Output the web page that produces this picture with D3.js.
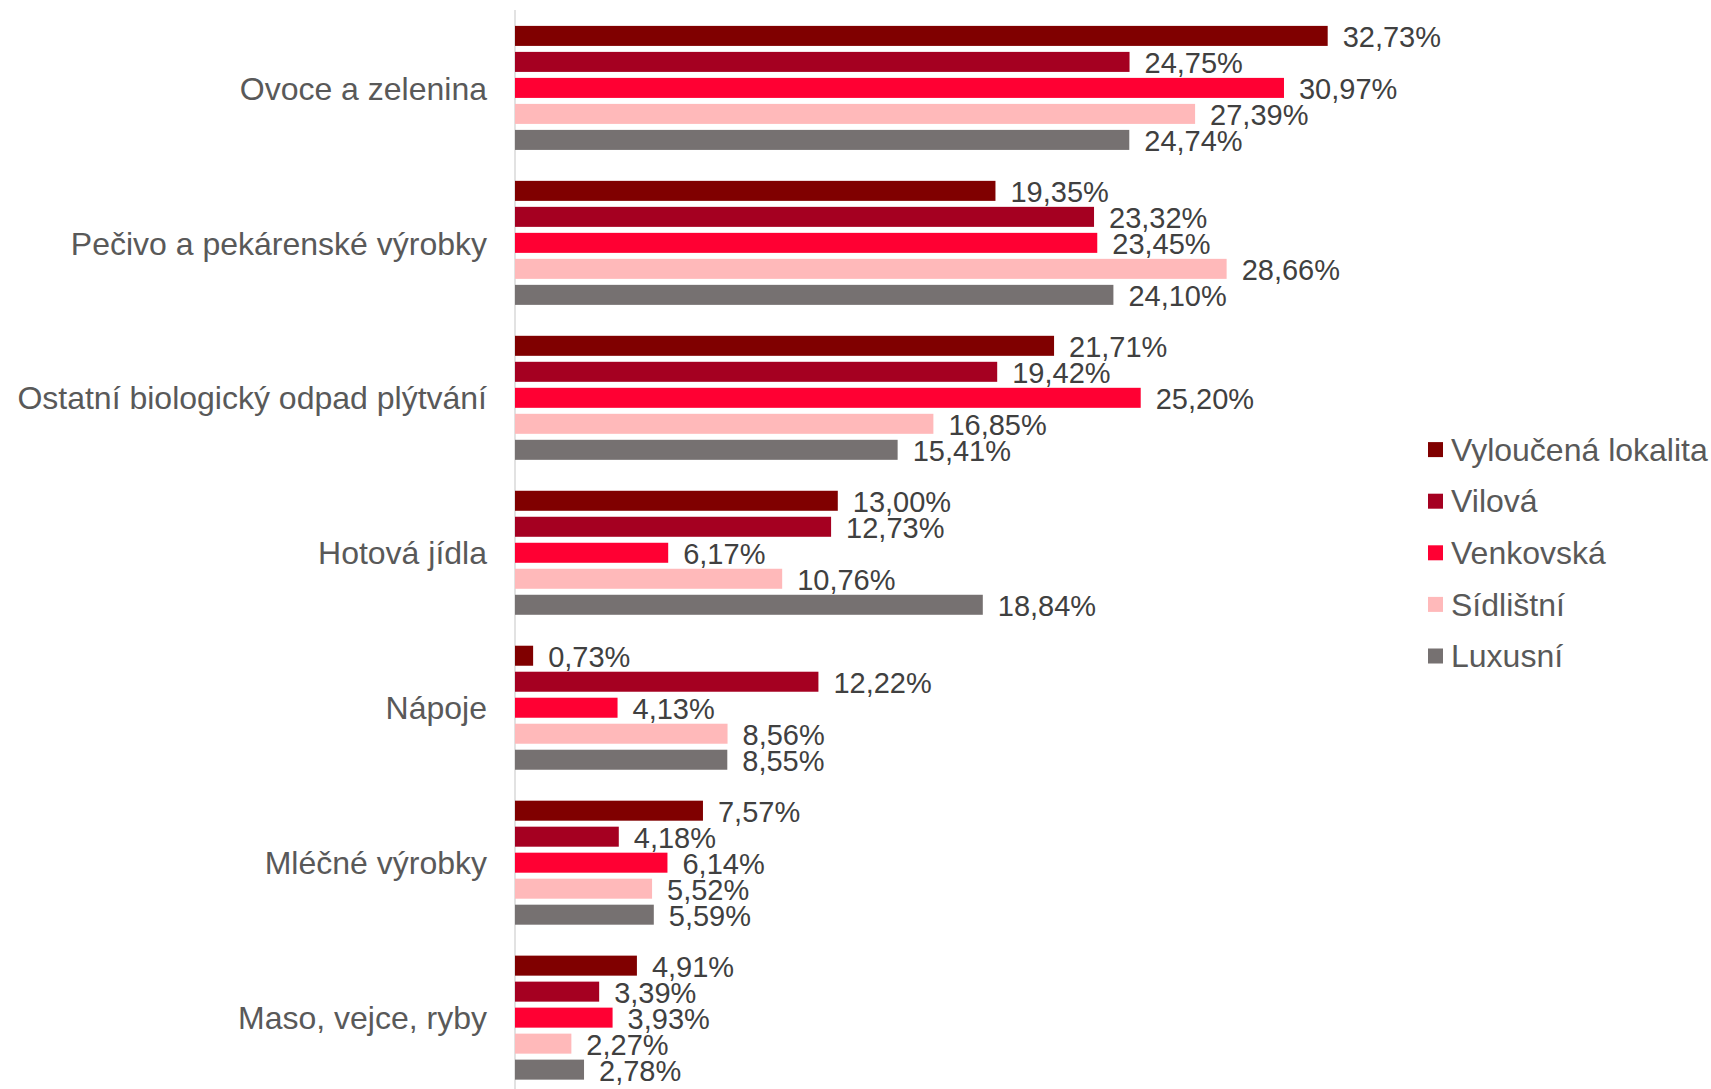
<!DOCTYPE html>
<html>
<head>
<meta charset="utf-8">
<script src="https://cdn.jsdelivr.net/npm/d3@7"></script>
<style>
  body { margin: 0; background: #fff; }
  text { font-family: "Liberation Sans", Arial, sans-serif; }
</style>
</head>
<body>
<div id="chart"></div>
<script>
// data
var categories = ["Ovoce a zelenina", "Pečivo a pekárenské výrobky", "Ostatní biologický odpad plýtvání",
  "Hotová jídla", "Nápoje", "Mléčné výrobky", "Maso, vejce, ryby"];
var seriesNames = ["Vyloučená lokalita", "Vilová", "Venkovská", "Sídlištní", "Luxusní"];
var seriesColors = ["#800000", "#a50021", "#ff0033", "#ffb9ba", "#767171"];
var vyloucena = [32.73, 19.35, 21.71, 13.00, 0.73, 7.57, 4.91];
var vilova    = [24.75, 23.32, 19.42, 12.73, 12.22, 4.18, 3.39];
var venkovska = [30.97, 23.45, 25.20, 6.17, 4.13, 6.14, 3.93];
var sidlistni = [27.39, 28.66, 16.85, 10.76, 8.56, 5.52, 2.27];
var luxusni   = [24.74, 24.10, 15.41, 18.84, 8.55, 5.59, 2.78];
var seriesValues = [vyloucena, vilova, venkovska, sidlistni, luxusni];

var width = 1711, height = 1089;
var svg = d3.select("#chart").append("svg")
  .attr("width", width)
  .attr("height", height);

var x = d3.scaleLinear().domain([0, 40]).range([515, 515 + 24.83 * 40]);
var y = d3.scaleBand().domain(categories).range([10.9, 1095.6]);
var yInner = d3.scaleBand().domain(seriesNames)
  .range([12, 142])
  .paddingInner(0.23)
  .paddingOuter(0.115);

var fmt = d3.format(".2f");

// axis line
svg.append("line")
  .attr("x1", x(0)).attr("x2", x(0))
  .attr("y1", 10).attr("y2", height)
  .attr("stroke", "#d9d9d9")
  .attr("stroke-width", 1.5);

// groups
var groups = svg.selectAll("g.cat")
  .data(categories)
  .enter().append("g")
  .attr("class", "cat")
  .attr("transform", function(d){ return "translate(0," + y(d) + ")"; });

groups.append("text")
  .attr("x", 487)
  .attr("y", y.bandwidth() / 2)
  .attr("dy", "0.35em")
  .attr("text-anchor", "end")
  .style("font-size", "32px")
  .style("fill", "#595959")
  .text(function(d){ return d; });

seriesNames.forEach(function(s, si){
  groups.append("rect")
    .attr("x", x(0))
    .attr("y", yInner(s))
    .attr("width", function(d, i){ return x(seriesValues[si][i]) - x(0); })
    .attr("height", yInner.bandwidth())
    .attr("fill", seriesColors[si]);

  groups.append("text")
    .attr("x", function(d, i){ return x(seriesValues[si][i]) + 15; })
    .attr("y", yInner(s) + yInner.bandwidth() / 2 + 1)
    .attr("dy", "0.36em")
    .style("font-size", "29px")
    .style("fill", "#404040")
    .text(function(d, i){ return fmt(seriesValues[si][i]).replace(".", ",") + "%"; });
});

// legend
var legend = svg.selectAll("g.legend")
  .data(seriesNames)
  .enter().append("g")
  .attr("class", "legend")
  .attr("transform", function(d, i){ return "translate(1428," + (449.6 + i * 51.6) + ")"; });

legend.append("rect")
  .attr("x", 0).attr("y", -7.5)
  .attr("width", 15).attr("height", 15)
  .attr("fill", function(d, i){ return seriesColors[i]; });

legend.append("text")
  .attr("x", 23)
  .attr("y", 0)
  .attr("dy", "0.35em")
  .style("font-size", "32px")
  .style("fill", "#595959")
  .text(function(d){ return d; });
</script>
</body>
</html>
